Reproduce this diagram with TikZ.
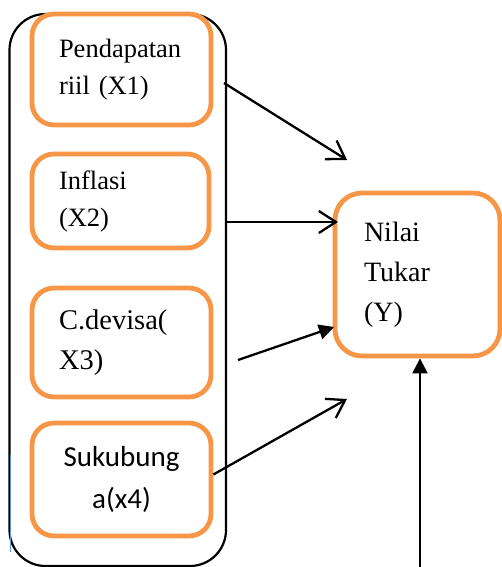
\documentclass[tikz,border=0pt]{standalone}
\usepackage{fontspec}
\setmainfont{Liberation Serif}
\newfontfamily\calibri{Carlito}
\usetikzlibrary{arrows.meta}
\definecolor{boxorange}{RGB}{247,150,70}
\definecolor{stray}{RGB}{91,155,213}

\begin{document}
\begin{tikzpicture}[x=1pt, y=-1pt,
	var/.style = {draw=boxorange, line width=4.8pt, fill=white, rounded corners=22pt,
		inner xsep=27pt, inner ysep=0pt, align=left, font=\fontsize{26.5}{37}\selectfont},
	grp/.style = {draw, line width=2.2pt, rounded corners=36pt},
	openarr/.style = {line width=2.3pt, -{Straight Barb[length=17pt, width=22pt]}},
	fillarr/.style = {line width=2.3pt, -{Triangle[length=15pt, width=15pt]}}]
	\useasboundingbox (0,0) rectangle (502,567);
	\node[grp, minimum width=216.5pt, minimum height=552pt] (g) at (117.75,290) {};
	\draw[stray, line width=1.2pt] (10.5,455) -- (10.5,552);
	\node[var, text width=125pt, minimum height=111pt] (x1) at (121.5,69.5) {Pendapatan\\riil (X1)};
	\node[var, text width=123pt, minimum height=94pt] (x2) at (120.5,201) {Inflasi\\(X2)};
	\node[var, text width=125pt, minimum height=109pt, font=\fontsize{28.5}{40}\selectfont] (x3) at (121.5,342.5) {C.devisa(\\X3)};
	\node[var, text width=125pt, minimum height=113pt, align=center, font=\calibri\fontsize{29}{42}\selectfont] (x4) at (121.5,479.5) {Sukubung\\a(x4)};
	\node[var, rounded corners=27pt, inner xsep=29pt, text width=107pt, minimum height=163pt, font=\fontsize{28}{40}\selectfont] (y) at (417.5,274.5) {Nilai\\Tukar\\(Y)};
	\coordinate (s1) at (224,83);
	\coordinate (e1) at (347,160);
	\coordinate (s2) at (226,222);
	\coordinate (e2) at (338,222);
	\coordinate (s3) at (238,360);
	\coordinate (e3) at (334,327);
	\coordinate (e4) at (347,399);
	\coordinate (s5) at (420,567);
	\draw[openarr] (s1) -- (e1);
	\draw[openarr] (s2) -- (e2);
	\draw[fillarr] (s3) -- (e3);
	\draw[openarr] ([yshift=5pt]x4.east) -- (e4);
	\draw[fillarr] (s5) -- (s5 |- y.south);
\end{tikzpicture}
\end{document}
